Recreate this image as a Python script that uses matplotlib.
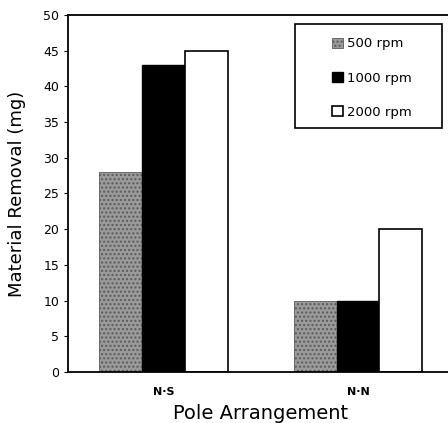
import numpy as np
import matplotlib.pyplot as plt
from matplotlib.patches import Rectangle

groups = ["N·S", "N·N"]
speeds = ["500 rpm", "1000 rpm", "2000 rpm"]
removal_500 = [28, 10]
removal_1000 = [43, 10]
removal_2000 = [45, 20]

fig = plt.figure(figsize=(4.48, 4.23), dpi=100)
ax = fig.add_axes([0.152, 0.1206, 0.86, 0.844])

x = np.arange(len(groups))
w = 0.22
ax.bar(x - w, removal_500, w, color="#9a9a9a", edgecolor="#5a5a5a", hatch="....",
       linewidth=0.6, label=speeds[0])
ax.bar(x, removal_1000, w, color="black", edgecolor="black", linewidth=1.0, label=speeds[1])
ax.bar(x + w, removal_2000, w, color="white", edgecolor="black", linewidth=1.2, label=speeds[2])

ax.set_xlim(-0.49, 1.49)
ax.set_ylim(0, 50)
ax.set_yticks(range(0, 51, 5))
ax.set_xticks(x)
ax.set_xticklabels(groups, fontsize=8, fontweight="bold")
ax.tick_params(axis="x", length=0, pad=11)
ax.tick_params(axis="y", length=3, labelsize=9)
for s in ax.spines.values():
    s.set_linewidth(1.3)

ax.set_xlabel("Pole Arrangement", fontsize=14, labelpad=5)
ax.set_ylabel("Material Removal (mg)", fontsize=13, labelpad=12)

# legend box
ax.add_patch(Rectangle((0.589, 0.683), 0.382, 0.292, transform=ax.transAxes,
                       facecolor="white", edgecolor="black", linewidth=1.2, zorder=4))
leg = ax.legend(loc="upper left", bbox_to_anchor=(0.685, 0.937), fontsize=9.5,
                handlelength=0.8, handleheight=0.8, handletextpad=0.3,
                labelspacing=1.6, borderpad=0, frameon=False, borderaxespad=0)
leg.set_zorder(5)

fig.savefig("out.png", dpi=100)
